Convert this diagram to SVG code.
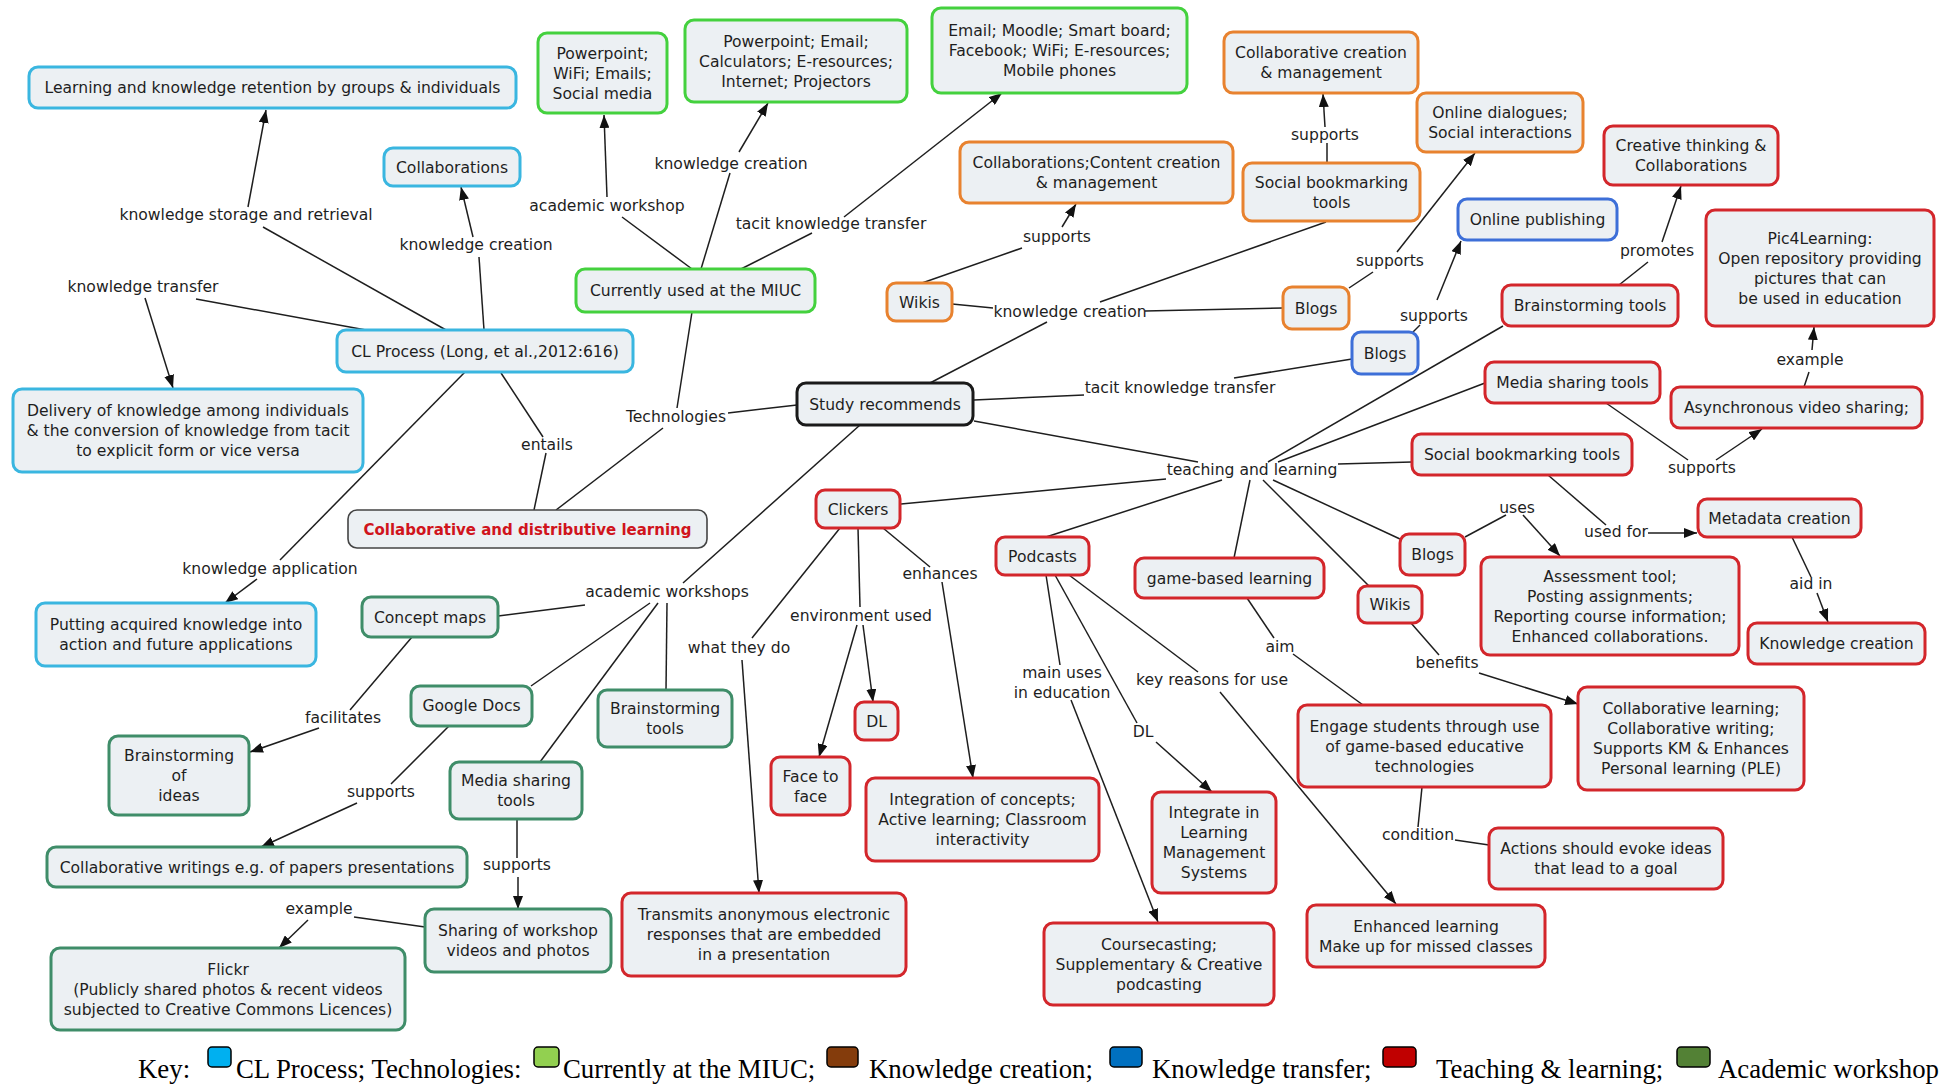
<svg xmlns="http://www.w3.org/2000/svg" width="1943" height="1086" viewBox="0 0 1943 1086">
<style>
.n rect{fill:#ecf0f3;stroke-width:3}
.cl rect{stroke:#3ab6e0}
.cur rect{stroke:#44d13e}
.kc rect{stroke:#e8822f}
.kt rect{stroke:#3d6fd8}
.tl rect{stroke:#d3262b}
.aw rect{stroke:#3f8d69}
.bk rect{stroke:#1a1a1a}
.gr rect{stroke:#444;stroke-width:1.6}
text{font-family:"DejaVu Sans",sans-serif;font-size:15.6px;fill:#1e1e1e;text-anchor:middle}
text.b{font-weight:bold;fill:#d0141c;font-size:15px}
#connectors line{stroke:#1e1e1e;stroke-width:1.5;fill:none}
#connectors line.a{marker-end:url(#arr)}
.lg text{font-family:"Liberation Serif",serif;font-size:26.8px;text-anchor:start;fill:#000}
.lg rect{stroke:#000;stroke-width:1.5}
</style>
<defs>
<marker id="arr" markerUnits="userSpaceOnUse" markerWidth="13" markerHeight="10" refX="13" refY="5" orient="auto">
<path d="M0,0 L13,5 L0,10 z" fill="#111"/>
</marker>
</defs>
<rect width="1943" height="1086" fill="#fff"/>

<g id="connectors">
<line x1="446" y1="330" x2="263" y2="227"/><line class="a" x1="248" y1="207" x2="266" y2="110"/>
<line x1="484" y1="330" x2="479" y2="257"/><line class="a" x1="473" y1="237" x2="461" y2="187"/>
<line x1="366" y1="330" x2="196" y2="299"/><line class="a" x1="145" y1="298" x2="173" y2="388"/>
<line x1="465" y1="372" x2="280" y2="560"/><line class="a" x1="257" y1="579" x2="225" y2="603"/>
<line x1="501" y1="373" x2="543" y2="437"/><line x1="546" y1="453" x2="534" y2="510"/>
<line x1="556" y1="510" x2="663" y2="428"/><line x1="677" y1="408" x2="692" y2="312"/><line x1="728" y1="413" x2="797" y2="405"/>
<line x1="692" y1="269" x2="622" y2="217"/><line class="a" x1="607" y1="197" x2="604" y2="115"/>
<line x1="701" y1="269" x2="730" y2="173"/><line class="a" x1="739" y1="152" x2="768" y2="103"/>
<line x1="741" y1="269" x2="812" y2="233"/><line class="a" x1="844" y1="217" x2="1002" y2="93"/>
<line x1="930" y1="383" x2="1047" y2="322"/>
<line x1="993" y1="308" x2="952" y2="304"/>
<line x1="922" y1="283" x2="1022" y2="248"/><line class="a" x1="1062" y1="227" x2="1076" y2="204"/>
<line x1="1100" y1="302" x2="1326" y2="222"/>
<line x1="1327" y1="163" x2="1327" y2="143"/><line class="a" x1="1325" y1="127" x2="1323" y2="94"/>
<line x1="1145" y1="311" x2="1283" y2="308"/>
<line x1="1349" y1="288" x2="1373" y2="272"/><line class="a" x1="1397" y1="252" x2="1475" y2="153"/>
<line x1="974" y1="400" x2="1084" y2="395"/><line x1="1234" y1="378" x2="1352" y2="359"/>
<line x1="1413" y1="332" x2="1420" y2="325"/><line class="a" x1="1437" y1="300" x2="1461" y2="241"/>
<line x1="974" y1="421" x2="1198" y2="462"/>
<line x1="1166" y1="479" x2="901" y2="504"/>
<line x1="1222" y1="480" x2="1046" y2="537"/>
<line x1="1250" y1="480" x2="1234" y2="558"/>
<line x1="1263" y1="480" x2="1369" y2="586"/>
<line x1="1273" y1="480" x2="1400" y2="539"/>
<line x1="1338" y1="464" x2="1412" y2="462"/>
<line x1="1278" y1="462" x2="1485" y2="383"/>
<line x1="1268" y1="462" x2="1503" y2="326"/>
<line x1="1619" y1="285" x2="1648" y2="262"/><line class="a" x1="1662" y1="242" x2="1681" y2="186"/>
<line x1="1606" y1="403" x2="1688" y2="460"/><line class="a" x1="1716" y1="460" x2="1762" y2="429"/>
<line x1="1804" y1="387" x2="1809" y2="372"/><line class="a" x1="1812" y1="350" x2="1814" y2="327"/>
<line x1="1548" y1="475" x2="1606" y2="525"/><line class="a" x1="1648" y1="533" x2="1697" y2="533"/>
<line x1="1792" y1="537" x2="1811" y2="577"/><line class="a" x1="1817" y1="593" x2="1828" y2="622"/>
<line x1="1465" y1="537" x2="1506" y2="515"/><line class="a" x1="1523" y1="515" x2="1560" y2="556"/>
<line x1="1411" y1="623" x2="1439" y2="655"/><line class="a" x1="1479" y1="673" x2="1578" y2="704"/>
<line x1="1247" y1="598" x2="1274" y2="638"/><line x1="1293" y1="654" x2="1363" y2="705"/>
<line x1="1422" y1="787" x2="1418" y2="827"/><line x1="1455" y1="840" x2="1489" y2="845"/>
<line x1="1046" y1="575" x2="1060" y2="665"/><line class="a" x1="1071" y1="700" x2="1158" y2="922"/>
<line x1="1055" y1="575" x2="1137" y2="723"/><line class="a" x1="1156" y1="742" x2="1212" y2="792"/>
<line x1="1069" y1="575" x2="1198" y2="672"/><line class="a" x1="1220" y1="692" x2="1396" y2="904"/>
<line x1="840" y1="528" x2="752" y2="638"/><line class="a" x1="742" y1="660" x2="759" y2="893"/>
<line x1="858" y1="528" x2="860" y2="607"/><line class="a" x1="857" y1="625" x2="819" y2="757"/><line class="a" x1="863" y1="625" x2="873" y2="702"/>
<line x1="883" y1="528" x2="930" y2="567"/><line class="a" x1="942" y1="582" x2="973" y2="778"/>
<line x1="860" y1="425" x2="683" y2="583"/>
<line x1="585" y1="605" x2="498" y2="616"/>
<line x1="650" y1="603" x2="531" y2="686"/>
<line x1="658" y1="603" x2="540" y2="762"/>
<line x1="667" y1="603" x2="666" y2="690"/>
<line x1="412" y1="637" x2="350" y2="710"/><line class="a" x1="319" y1="728" x2="250" y2="752"/>
<line x1="449" y1="726" x2="391" y2="784"/><line class="a" x1="357" y1="803" x2="261" y2="847"/>
<line x1="517" y1="819" x2="517" y2="858"/><line class="a" x1="518" y1="877" x2="518" y2="909"/>
<line x1="425" y1="927" x2="354" y2="917"/><line class="a" x1="308" y1="920" x2="279" y2="948"/>
</g>

<g id="labels">
<text x="246" y="220">knowledge storage and retrieval</text>
<text x="476" y="250">knowledge creation</text>
<text x="143" y="292">knowledge transfer</text>
<text x="547" y="450">entails</text>
<text x="270" y="574">knowledge application</text>
<text x="676" y="422">Technologies</text>
<text x="607" y="211">academic workshop</text>
<text x="731" y="169">knowledge creation</text>
<text x="831" y="229">tacit knowledge transfer</text>
<text x="1057" y="242">supports</text>
<text x="1070" y="317">knowledge creation</text>
<text x="1325" y="140">supports</text>
<text x="1390" y="266">supports</text>
<text x="1434" y="321">supports</text>
<text x="1657" y="256">promotes</text>
<text x="1810" y="365">example</text>
<text x="1180" y="393">tacit knowledge transfer</text>
<text x="1252" y="475">teaching and learning</text>
<text x="1702" y="473">supports</text>
<text x="1517" y="513">uses</text>
<text x="1616" y="537">used for</text>
<text x="1811" y="589">aid in</text>
<text x="1447" y="668">benefits</text>
<text x="1280" y="652">aim</text>
<text x="1062" y="678">main uses<tspan x="1062" dy="20">in education</tspan></text>
<text x="1212" y="685">key reasons for use</text>
<text x="1143" y="737">DL</text>
<text x="1418" y="840">condition</text>
<text x="667" y="597">academic workshops</text>
<text x="940" y="579">enhances</text>
<text x="861" y="621">environment used</text>
<text x="739" y="653">what they do</text>
<text x="343" y="723">facilitates</text>
<text x="381" y="797">supports</text>
<text x="517" y="870">supports</text>
<text x="319" y="914">example</text>
</g>

<g id="n_retention" class="n cl"><rect x="29" y="67" width="487" height="41" rx="9"/><text x="272.5" y="93">Learning and knowledge retention by groups &amp; individuals</text></g>
<g id="n_collaborations" class="n cl"><rect x="384" y="148" width="136" height="38" rx="9"/><text x="452" y="172.5">Collaborations</text></g>
<g id="n_clprocess" class="n cl"><rect x="337" y="330" width="296" height="42" rx="9"/><text x="485" y="356.5">CL Process (Long, et al.,2012:616)</text></g>
<g id="n_delivery" class="n cl"><rect x="13" y="389" width="350" height="83" rx="9"/><text x="188" y="416">Delivery of knowledge among individuals<tspan x="188" dy="20">&amp; the conversion of knowledge from tacit</tspan><tspan x="188" dy="20">to explicit form or vice versa</tspan></text></g>
<g id="n_putting" class="n cl"><rect x="36" y="603" width="280" height="63" rx="9"/><text x="176" y="630">Putting acquired knowledge into<tspan x="176" dy="20">action and future applications</tspan></text></g>

<g id="n_pp1" class="n cur"><rect x="538" y="33" width="129" height="80" rx="9"/><text x="602.5" y="58.5">Powerpoint;<tspan x="602.5" dy="20">WiFi; Emails;</tspan><tspan x="602.5" dy="20">Social media</tspan></text></g>
<g id="n_pp2" class="n cur"><rect x="685" y="20" width="222" height="82" rx="9"/><text x="796" y="46.5">Powerpoint; Email;<tspan x="796" dy="20">Calculators; E-resources;</tspan><tspan x="796" dy="20">Internet; Projectors</tspan></text></g>
<g id="n_email" class="n cur"><rect x="932" y="8" width="255" height="85" rx="9"/><text x="1059.5" y="36">Email; Moodle; Smart board;<tspan x="1059.5" dy="20">Facebook; WiFi; E-resources;</tspan><tspan x="1059.5" dy="20">Mobile phones</tspan></text></g>
<g id="n_current" class="n cur"><rect x="576" y="269" width="239" height="43" rx="9"/><text x="695.5" y="296">Currently used at the MIUC</text></g>

<g id="n_collabcontent" class="n kc"><rect x="960" y="142" width="273" height="61" rx="9"/><text x="1096.5" y="168">Collaborations;Content creation<tspan x="1096.5" dy="20">&amp; management</tspan></text></g>
<g id="n_wikis_kc" class="n kc"><rect x="887" y="283" width="65" height="38" rx="9"/><text x="919.5" y="307.5">Wikis</text></g>
<g id="n_collabcreation" class="n kc"><rect x="1224" y="32" width="194" height="61" rx="9"/><text x="1321" y="58">Collaborative creation<tspan x="1321" dy="20">&amp; management</tspan></text></g>
<g id="n_socbook_kc" class="n kc"><rect x="1243" y="163" width="177" height="58" rx="9"/><text x="1331.5" y="187.5">Social bookmarking<tspan x="1331.5" dy="20">tools</tspan></text></g>
<g id="n_onlinedialog" class="n kc"><rect x="1417" y="93" width="166" height="59" rx="9"/><text x="1500" y="118">Online dialogues;<tspan x="1500" dy="20">Social interactions</tspan></text></g>
<g id="n_blogs_kc" class="n kc"><rect x="1283" y="287" width="66" height="42" rx="9"/><text x="1316" y="313.5">Blogs</text></g>

<g id="n_onlinepub" class="n kt"><rect x="1458" y="199" width="159" height="41" rx="9"/><text x="1537.5" y="225">Online publishing</text></g>
<g id="n_blogs_kt" class="n kt"><rect x="1352" y="332" width="66" height="42" rx="9"/><text x="1385" y="358.5">Blogs</text></g>

<g id="n_creative" class="n tl"><rect x="1604" y="126" width="174" height="59" rx="9"/><text x="1691" y="151">Creative thinking &amp;<tspan x="1691" dy="20">Collaborations</tspan></text></g>
<g id="n_pic4" class="n tl"><rect x="1706" y="210" width="228" height="116" rx="9"/><text x="1820" y="243.5">Pic4Learning:<tspan x="1820" dy="20">Open repository providing</tspan><tspan x="1820" dy="20">pictures that can</tspan><tspan x="1820" dy="20">be used in education</tspan></text></g>
<g id="n_brainstorm_tl" class="n tl"><rect x="1502" y="285" width="176" height="41" rx="9"/><text x="1590" y="311">Brainstorming tools</text></g>
<g id="n_media_tl" class="n tl"><rect x="1485" y="362" width="175" height="41" rx="9"/><text x="1572.5" y="388">Media sharing tools</text></g>
<g id="n_async" class="n tl"><rect x="1671" y="387" width="251" height="41" rx="9"/><text x="1796.5" y="413">Asynchronous video sharing;</text></g>
<g id="n_socbook_tl" class="n tl"><rect x="1412" y="434" width="220" height="41" rx="9"/><text x="1522" y="460">Social bookmarking tools</text></g>
<g id="n_metadata" class="n tl"><rect x="1698" y="499" width="163" height="38" rx="9"/><text x="1779.5" y="523.5">Metadata creation</text></g>
<g id="n_blogs_tl" class="n tl"><rect x="1400" y="534" width="65" height="41" rx="9"/><text x="1432.5" y="560">Blogs</text></g>
<g id="n_assess" class="n tl"><rect x="1481" y="557" width="258" height="98" rx="9"/><text x="1610" y="581.5">Assessment tool;<tspan x="1610" dy="20">Posting assignments;</tspan><tspan x="1610" dy="20">Reporting course information;</tspan><tspan x="1610" dy="20">Enhanced collaborations.</tspan></text></g>
<g id="n_kcreation" class="n tl"><rect x="1748" y="623" width="177" height="41" rx="9"/><text x="1836.5" y="649">Knowledge creation</text></g>
<g id="n_wikis_tl" class="n tl"><rect x="1358" y="586" width="64" height="37" rx="9"/><text x="1390" y="610">Wikis</text></g>
<g id="n_clickers" class="n tl"><rect x="816" y="490" width="84" height="38" rx="9"/><text x="858" y="514.5">Clickers</text></g>
<g id="n_podcasts" class="n tl"><rect x="996" y="537" width="93" height="38" rx="9"/><text x="1042.5" y="561.5">Podcasts</text></g>
<g id="n_game" class="n tl"><rect x="1135" y="558" width="189" height="40" rx="9"/><text x="1229.5" y="583.5">game-based learning</text></g>
<g id="n_dl" class="n tl"><rect x="855" y="702" width="43" height="38" rx="9"/><text x="876.5" y="726.5">DL</text></g>
<g id="n_face" class="n tl"><rect x="771" y="757" width="79" height="58" rx="9"/><text x="810.5" y="781.5">Face to<tspan x="810.5" dy="20">face</tspan></text></g>
<g id="n_integration" class="n tl"><rect x="866" y="778" width="233" height="83" rx="9"/><text x="982.5" y="805">Integration of concepts;<tspan x="982.5" dy="20">Active learning; Classroom</tspan><tspan x="982.5" dy="20">interactivity</tspan></text></g>
<g id="n_transmits" class="n tl"><rect x="622" y="893" width="284" height="83" rx="9"/><text x="764" y="920">Transmits anonymous electronic<tspan x="764" dy="20">responses that are embedded</tspan><tspan x="764" dy="20">in a presentation</tspan></text></g>
<g id="n_lms" class="n tl"><rect x="1152" y="792" width="124" height="101" rx="9"/><text x="1214" y="818">Integrate in<tspan x="1214" dy="20">Learning</tspan><tspan x="1214" dy="20">Management</tspan><tspan x="1214" dy="20">Systems</tspan></text></g>
<g id="n_coursecast" class="n tl"><rect x="1044" y="923" width="230" height="82" rx="9"/><text x="1159" y="949.5">Coursecasting;<tspan x="1159" dy="20">Supplementary &amp; Creative</tspan><tspan x="1159" dy="20">podcasting</tspan></text></g>
<g id="n_engage" class="n tl"><rect x="1298" y="705" width="253" height="82" rx="9"/><text x="1424.5" y="731.5">Engage students through use<tspan x="1424.5" dy="20">of game-based educative</tspan><tspan x="1424.5" dy="20">technologies</tspan></text></g>
<g id="n_collablearn" class="n tl"><rect x="1578" y="687" width="226" height="103" rx="9"/><text x="1691" y="714">Collaborative learning;<tspan x="1691" dy="20">Collaborative writing;</tspan><tspan x="1691" dy="20">Supports KM &amp; Enhances</tspan><tspan x="1691" dy="20">Personal learning (PLE)</tspan></text></g>
<g id="n_actions" class="n tl"><rect x="1489" y="828" width="234" height="61" rx="9"/><text x="1606" y="854">Actions should evoke ideas<tspan x="1606" dy="20">that lead to a goal</tspan></text></g>
<g id="n_enhanced" class="n tl"><rect x="1307" y="905" width="238" height="62" rx="9"/><text x="1426" y="931.5">Enhanced learning<tspan x="1426" dy="20">Make up for missed classes</tspan></text></g>

<g id="n_concept" class="n aw"><rect x="362" y="597" width="136" height="40" rx="9"/><text x="430" y="622.5">Concept maps</text></g>
<g id="n_gdocs" class="n aw"><rect x="411" y="686" width="121" height="40" rx="9"/><text x="471.5" y="711">Google Docs</text></g>
<g id="n_brainstorm_aw" class="n aw"><rect x="598" y="690" width="134" height="57" rx="9"/><text x="665" y="714">Brainstorming<tspan x="665" dy="20">tools</tspan></text></g>
<g id="n_brainideas" class="n aw"><rect x="109" y="736" width="140" height="79" rx="9"/><text x="179" y="761">Brainstorming<tspan x="179" dy="20">of</tspan><tspan x="179" dy="20">ideas</tspan></text></g>
<g id="n_media_aw" class="n aw"><rect x="450" y="762" width="132" height="57" rx="9"/><text x="516" y="786">Media sharing<tspan x="516" dy="20">tools</tspan></text></g>
<g id="n_collabwrit" class="n aw"><rect x="47" y="847" width="420" height="40" rx="9"/><text x="257" y="872.5">Collaborative writings e.g. of papers presentations</text></g>
<g id="n_sharing" class="n aw"><rect x="425" y="909" width="186" height="63" rx="9"/><text x="518" y="936">Sharing of workshop<tspan x="518" dy="20">videos and photos</tspan></text></g>
<g id="n_flickr" class="n aw"><rect x="51" y="948" width="354" height="82" rx="9"/><text x="228" y="974.5">Flickr<tspan x="228" dy="20">(Publicly shared photos &amp; recent videos</tspan><tspan x="228" dy="20">subjected to Creative Commons Licences)</tspan></text></g>

<g id="n_study" class="n bk"><rect x="797" y="383" width="176" height="42" rx="9"/><text x="885" y="409.5">Study recommends</text></g>
<g id="n_cdl" class="n gr"><rect x="348" y="510" width="359" height="38" rx="9"/><text class="b" x="527.5" y="534.5">Collaborative and distributive learning</text></g>

<g id="legend" class="lg">
<text x="138" y="1078">Key:</text>
<rect x="208" y="1047" width="23" height="20" rx="4" fill="#00b0f0"/>
<text x="236" y="1078">CL Process; Technologies:</text>
<rect x="534" y="1047" width="25" height="20" rx="4" fill="#92d050"/>
<text x="563" y="1078">Currently at the MIUC;</text>
<rect x="827" y="1047" width="31" height="20" rx="4" fill="#843c0c"/>
<text x="869" y="1078">Knowledge creation;</text>
<rect x="1110" y="1047" width="32" height="20" rx="4" fill="#0070c0"/>
<text x="1152" y="1078">Knowledge transfer;</text>
<rect x="1383" y="1047" width="33" height="20" rx="4" fill="#c00000"/>
<text x="1436" y="1078">Teaching &amp; learning;</text>
<rect x="1677" y="1047" width="33" height="20" rx="4" fill="#538135"/>
<text x="1718" y="1078">Academic workshop</text>
</g>
</svg>
